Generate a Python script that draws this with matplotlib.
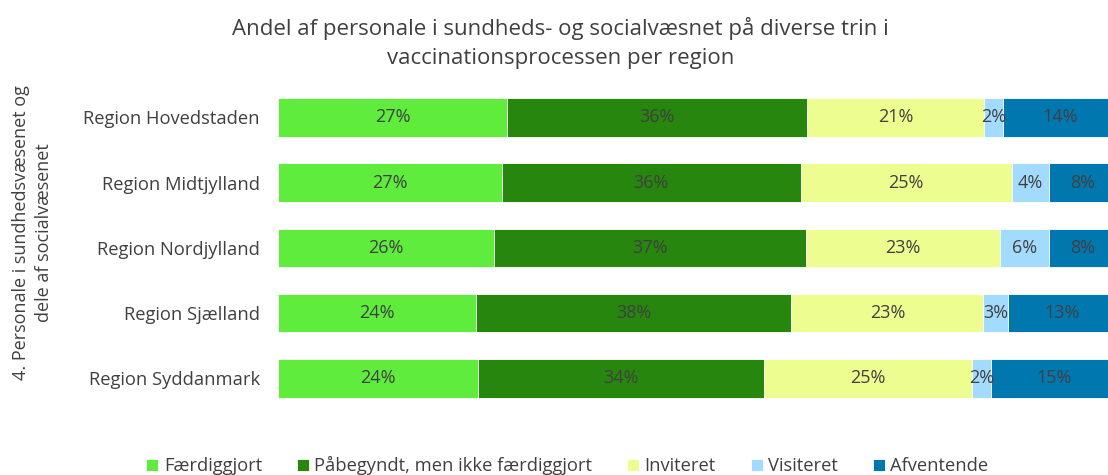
import numpy as np
import matplotlib
matplotlib.use("Agg")
import matplotlib.pyplot as plt

plt.rcParams['font.family'] = ['Open Sans', 'DejaVu Sans']

regions = ["Region Hovedstaden", "Region Midtjylland", "Region Nordjylland",
           "Region Sjælland", "Region Syddanmark"]
series = ["Færdiggjort", "Påbegyndt, men ikke færdiggjort", "Inviteret",
          "Visiteret", "Afventende"]
faerdig = [27.3, 26.7, 25.7, 23.6, 23.9]
paabegyndt = [35.8, 35.6, 37.2, 37.6, 34.0]
inviteret = [21.1, 25.2, 23.2, 22.9, 24.8]
visiteret = [2.2, 4.4, 5.8, 2.9, 2.3]
afventende = [13.6, 8.1, 8.1, 13.0, 15.0]

colors = ["#5FEC3C", "#27860E", "#EDFD8F", "#A3DBFF", "#0177AF"]
txt = "#404040"

data = np.array([faerdig, paabegyndt, inviteret, visiteret, afventende]) / 100.0

fig = plt.figure(figsize=(11.08, 4.75), dpi=100)
# axes stretch a bit past the right edge, like the cropped original
ax = fig.add_axes([0.2509, 0.1347, 0.757, 0.687])

y = np.arange(len(regions))
left = np.zeros(len(regions))
handles = []
for vals, name, col in zip(data, series, colors):
    bars = ax.barh(y, vals, left=left, height=0.59, color=col,
                   edgecolor="white", linewidth=0.6, label=name)
    handles.append(bars)
    for yi, (l, v) in enumerate(zip(left, vals)):
        ax.text(l + v / 2, yi, f"{v*100:.0f}%", ha="center", va="center",
                fontsize=13, color=txt)
    left += vals

ax.set_xlim(0, 1)
ax.set_ylim(4.5, -0.5)
ax.set_yticks(y)
ax.set_yticklabels(regions, fontsize=13.2, color=txt)
ax.tick_params(axis="y", length=0, pad=13)
ax.set_xticks([])
for s in ax.spines.values():
    s.set_visible(False)

fig.text(0.506, 0.909, "Andel af personale i sundheds- og socialvæsnet på diverse trin i\n"
         "vaccinationsprocessen per region", ha="center", va="center",
         fontsize=16, color=txt, linespacing=1.5)

fig.text(0.029, 0.51, "4. Personale i sundhedsvæsenet og\ndele af socialvæsenet",
         rotation=90, ha="center", va="center", fontsize=13, color=txt,
         linespacing=1.35)

leg = fig.legend(handles=handles, labels=series, loc="lower center",
                 bbox_to_anchor=(0.512, -0.035), ncol=5, frameon=False,
                 fontsize=13.2, handlelength=0.65, handleheight=0.65,
                 handletextpad=0.3, columnspacing=1.9)
for t in leg.get_texts():
    t.set_color(txt)

fig.savefig("out.png", dpi=100)
